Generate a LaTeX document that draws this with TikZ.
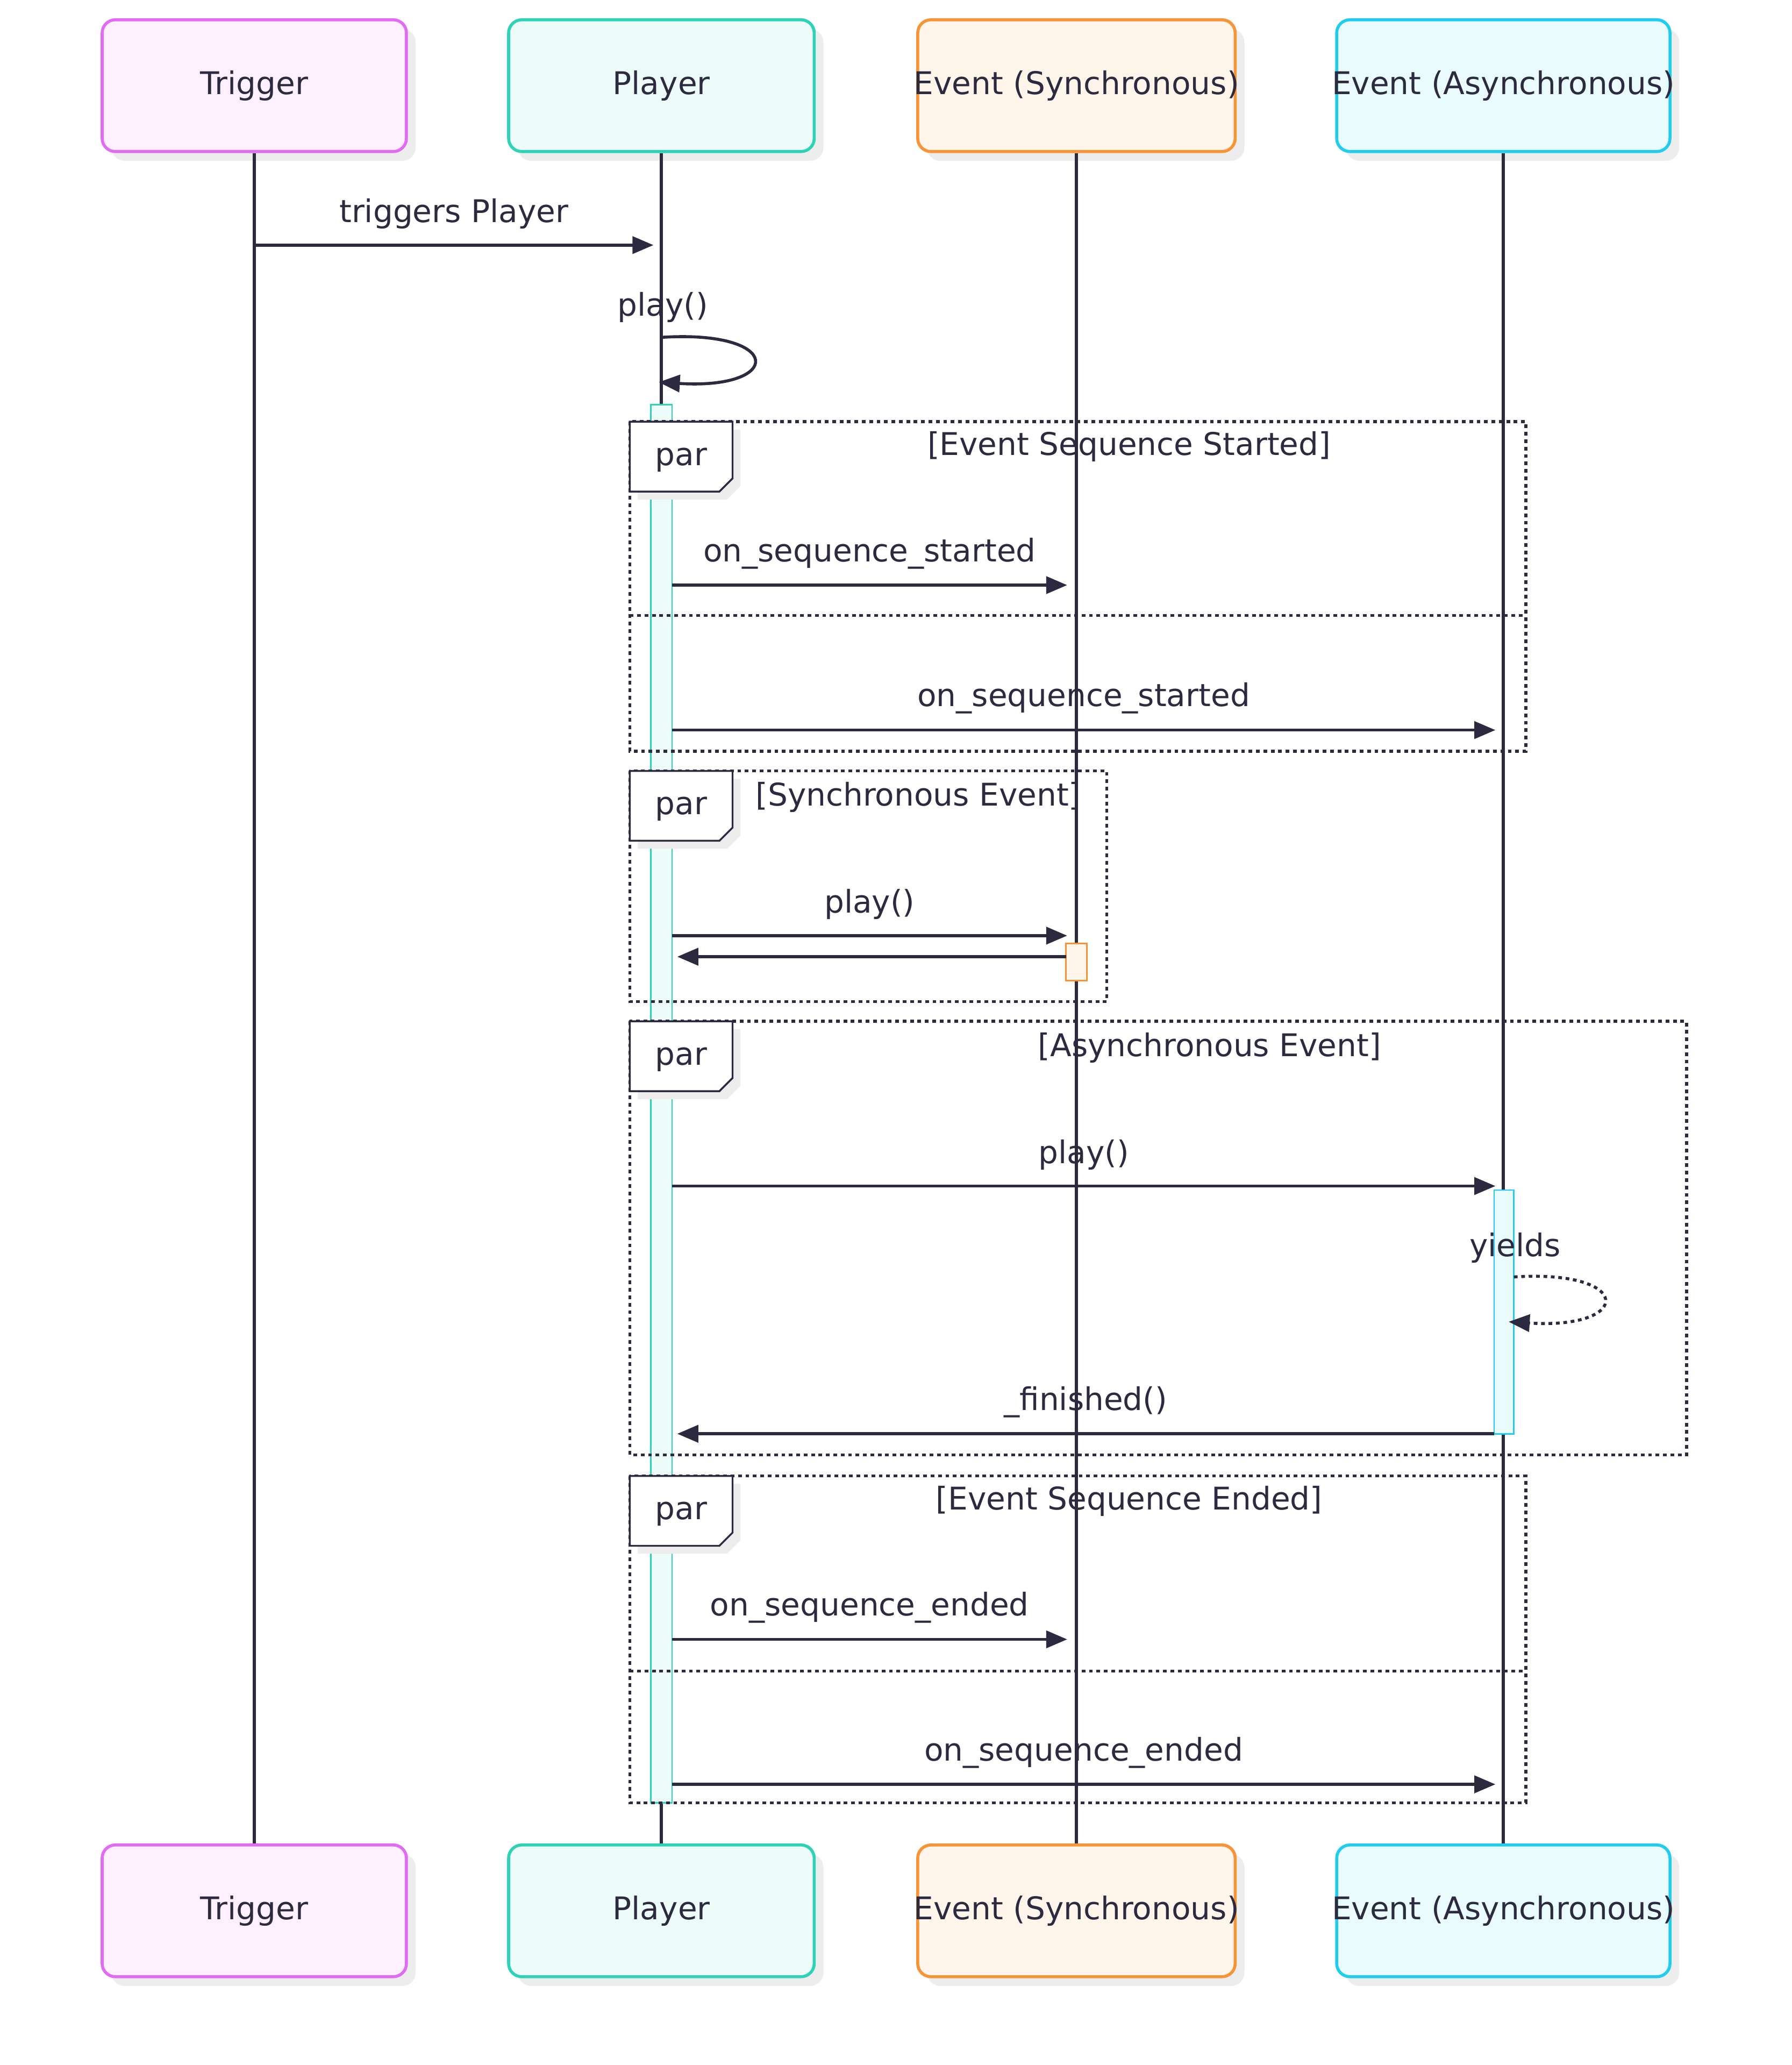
\documentclass[tikz,border=0pt]{standalone}
\usepackage{fontspec}
\setmainfont{DejaVu Sans}
\usetikzlibrary{arrows.meta,positioning,shadows}

\definecolor{ink}{HTML}{2B2A3F}
\definecolor{trigC}{HTML}{E16CF3}
\definecolor{trigF}{HTML}{FEF0FE}
\definecolor{playC}{HTML}{2ED3B7}
\definecolor{playF}{HTML}{EEFCF9}
\definecolor{syncC}{HTML}{F79438}
\definecolor{syncF}{HTML}{FFF5EB}
\definecolor{asyC}{HTML}{22CCEE}
\definecolor{asyF}{HTML}{EAFBFE}

\begin{document}
\begin{tikzpicture}[x=0.02cm,y=-0.02cm,font=\fontsize{13.5}{16}\selectfont,text=ink,
	actor/.style={draw,rounded corners=2mm,line width=1.3pt,minimum height=2cm,
		drop shadow={shadow xshift=0.14cm,shadow yshift=-0.14cm,fill=black!7,opacity=1}},
	life/.style={draw=ink,line width=1.3pt},
	msg/.style={draw=ink,line width=1.3pt,-{Triangle[length=3.2mm,width=2.6mm]}},
	frame/.style={draw=ink,line width=1.3pt,dash pattern=on 1.6pt off 1.6pt},
	bar/.style={draw,line width=0.6pt}]
	\useasboundingbox (0,0) rectangle (1360,1567);

	% actors
	\foreach \s/\y in {t/65,b/1450} {
		\node[actor,draw=trigC,fill=trigF,minimum width=4.62cm] (\s T) at (193,\y) {\makebox[0pt]{Trigger}};
		\node[actor,draw=playC,fill=playF,minimum width=4.64cm] (\s P) at (502,\y) {\makebox[0pt]{Player}};
		\node[actor,draw=syncC,fill=syncF,minimum width=4.82cm] (\s S) at (817,\y) {\makebox[0pt]{Event (Synchronous)}};
		\node[actor,draw=asyC,fill=asyF,minimum width=5.06cm] (\s A) at (1141,\y) {\makebox[0pt]{Event (Asynchronous)}};
	}
	\foreach \a in {T,P,S,A}
		\draw[life] (t\a) -- (b\a);

	% activations
	\draw[bar,draw=playC,fill=playF] (494,307) rectangle (510,1368);
	\draw[bar,draw=syncC,fill=syncF] (809,716) rectangle (825,744);
	\draw[bar,draw=asyC,fill=asyF] (1134,903) rectangle (1149,1088);

	% frames
	\draw[frame] (478,320) rectangle (1158,570);
	\draw[frame] (478,467) -- (1158,467);
	\draw[frame] (478,585) rectangle (840,760);
	\draw[frame] (478,775) rectangle (1280,1104);
	\draw[frame] (478,1120) rectangle (1158,1368);
	\draw[frame] (478,1268) -- (1158,1268);
	\foreach \y in {320,585,775,1120} {
		\fill[black!7] (484,\y+6) -- (562,\y+6) -- (562,\y+49) -- (552,\y+59) -- (484,\y+59) -- cycle;
		\draw[ink,line width=0.8pt,fill=white] (478,\y) -- (556,\y) -- (556,\y+43) -- (546,\y+53) -- (478,\y+53) -- cycle;
		\node (par\y) at (517,\y+29) {par};
	}
	\node (g1) at (857,339) {[Event Sequence Started]};
	\node (g2) at (697,605) {[Synchronous Event]};
	\node (g3) at (918,795) {[Asynchronous Event]};
	\node (g4) at (857,1139) {[Event Sequence Ended]};

	% messages
	\coordinate (c1) at (193,186);   \coordinate (c2) at (496,186);
	\draw[msg] (c1) -- node[above=3pt] {triggers Player} (c2);
	\coordinate (c3) at (502,256);   \coordinate (c4) at (500,290);
	\node (l1) at (503,233) {play()};
	\draw[msg] (c3) .. controls (595,250) and (595,296) .. (c4);
	\foreach \y/\e/\t in {444/810/on\_sequence\_started,554/1135/on\_sequence\_started,
			710/810/play(),900/1135/play(),1244/810/on\_sequence\_ended,1354/1135/on\_sequence\_ended} {
		\coordinate (s\y) at (510,\y); \coordinate (e\y) at (\e,\y);
		\draw[msg] (s\y) -- node[above=3pt] {\t} (e\y);
	}
	\coordinate (r1) at (809,726);   \coordinate (r2) at (514,726);
	\draw[msg] (r1) -- (r2);
	\coordinate (y1) at (1149,969);  \coordinate (y2) at (1145,1003);
	\node (l2) at (1150,947) {yields};
	\draw[msg,dash pattern=on 1.6pt off 1.6pt] (y1) .. controls (1240,963) and (1240,1009) .. (y2);
	\coordinate (f1) at (1134,1088); \coordinate (f2) at (514,1088);
	\draw[msg] (f1) -- node[above=3pt] {\_finished()} (f2);
\end{tikzpicture}
\end{document}
